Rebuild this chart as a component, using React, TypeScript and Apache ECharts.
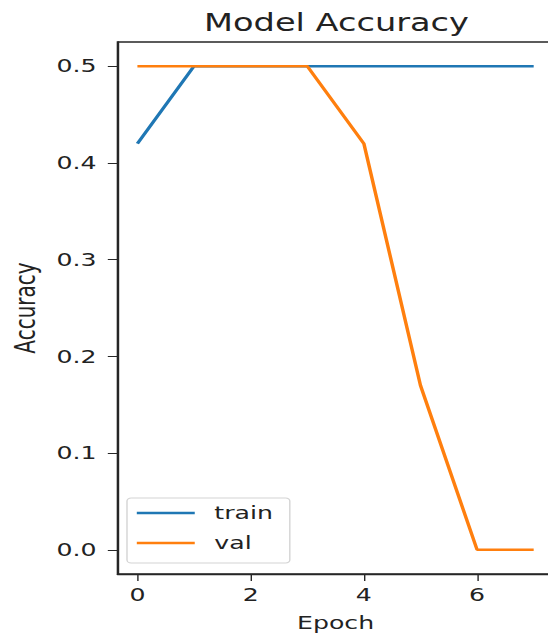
import React, { useEffect, useRef } from "react";
import * as echarts from "echarts";

const epochs = [0, 1, 2, 3, 4, 5, 6, 7];
const trainAcc = [0.42, 0.5, 0.5, 0.5, 0.5, 0.5, 0.5, 0.5];
const valAcc = [0.5, 0.5, 0.5, 0.5, 0.42, 0.17, 0, 0];
const xTicks = [0, 2, 4, 6];
const yTicks = [0, 0.1, 0.2, 0.3, 0.4, 0.5];
const seriesNames = ["train", "val"];
const titleText = "Model Accuracy";
const xName = "Epoch";
const yName = "Accuracy";

// the reference picture is stretched horizontally; render narrower and scale
const S = 1.4;
const W = 548 / S;
const CW = W + 20; // chart a bit wider than the visible window (right spine is cropped)
const H = 638;
const FONT = "'DejaVu Sans', sans-serif";
const INK = "#222";
const SPINE = "#262626";

export default function App() {
  const ref = useRef<HTMLDivElement>(null);
  useEffect(() => {
    if (!ref.current) return;
    const chart = echarts.init(ref.current, undefined, { renderer: "svg", width: CW, height: H });
    const axisLabelStyle = { fontSize: 18, fontFamily: FONT, color: INK };
    chart.setOption({
      animation: false,
      graphic: [
        {
          type: "text",
          x: 336.5 / S,
          y: 22.8,
          style: {
            text: titleText,
            fontSize: 24,
            fontFamily: FONT,
            fill: INK,
            align: "center",
            verticalAlign: "middle",
          },
        },
      ],
      grid: {
        left: 114 / S,
        top: 42,
        width: 439.5 / S,
        height: 532,
        show: true,
        borderColor: SPINE,
        borderWidth: 1.3,
        backgroundColor: "transparent",
      },
      legend: {
        data: seriesNames,
        orient: "vertical",
        left: 127 / S,
        top: 498,
        icon: "rect",
        itemWidth: 41.4,
        itemHeight: 2.5,
        itemGap: 12,
        padding: [6, 12, 11, 7],
        borderColor: "#d4d4d4",
        borderWidth: 1,
        borderRadius: 3,
        backgroundColor: "#fff",
        textStyle: { fontSize: 18, fontFamily: FONT, color: INK, padding: [0, 0, 0, 9] },
      },
      xAxis: {
        type: "value",
        min: -0.35,
        max: 7.35,
        name: xName,
        nameLocation: "middle",
        nameGap: 40,
        nameTextStyle: { fontSize: 18, fontFamily: FONT, color: INK },
        axisLine: { show: true, onZero: false, lineStyle: { color: SPINE, width: 1.3 } },
        axisTick: { show: true, length: 7, customValues: xTicks, lineStyle: { color: SPINE, width: 1 } },
        axisLabel: { ...axisLabelStyle, margin: 12, customValues: xTicks, formatter: (v: number) => String(v) },
        splitLine: { show: false },
      },
      yAxis: {
        type: "value",
        min: -0.025,
        max: 0.525,
        name: yName,
        nameLocation: "middle",
        nameRotate: 90,
        nameGap: 56,
        nameTextStyle: { fontSize: 20, fontFamily: FONT, color: INK },
        axisLine: { show: true, onZero: false, lineStyle: { color: SPINE, width: 1.3 } },
        axisTick: { show: true, length: 7, customValues: yTicks, lineStyle: { color: SPINE, width: 1 } },
        axisLabel: { ...axisLabelStyle, margin: 15, customValues: yTicks, formatter: (v: number) => v.toFixed(1) },
        splitLine: { show: false },
      },
      series: [
        {
          type: "line",
          name: seriesNames[0],
          data: epochs.map((e, i) => [e, trainAcc[i]]),
          symbol: "none",
          color: "#1f77b4",
          lineStyle: { color: "#1f77b4", width: 2.5 },
        },
        {
          type: "line",
          name: seriesNames[1],
          data: epochs.map((e, i) => [e, valAcc[i]]),
          symbol: "none",
          color: "#ff7f0e",
          lineStyle: { color: "#ff7f0e", width: 2.5 },
        },
      ],
    });
    return () => chart.dispose();
  }, []);

  return (
    <div style={{ position: "fixed", left: 0, top: 0, width: 548, height: H, overflow: "hidden", background: "#fff" }}>
      <div
        ref={ref}
        style={{ width: CW, height: H, transform: `scaleX(${S})`, transformOrigin: "0 0" }}
      />
    </div>
  );
}
